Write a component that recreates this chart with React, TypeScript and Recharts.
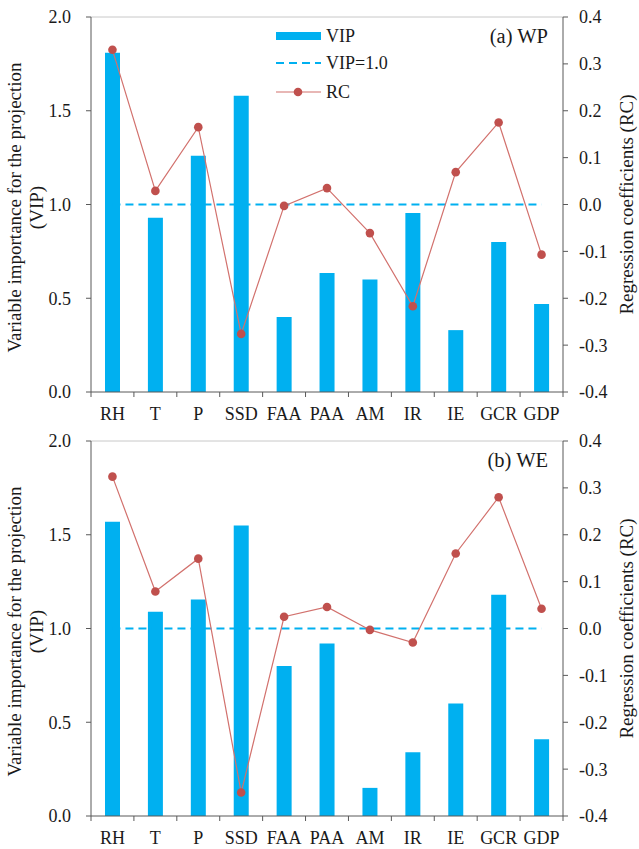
import React from 'react';
import { ComposedChart, Bar, Line, XAxis, YAxis, ReferenceLine, Legend, Label } from 'recharts';

const CATEGORIES = ['RH', 'T', 'P', 'SSD', 'FAA', 'PAA', 'AM', 'IR', 'IE', 'GCR', 'GDP'];
const VIP_WP = [1.81, 0.93, 1.26, 1.58, 0.4, 0.635, 0.6, 0.955, 0.33, 0.8, 0.47];
const RC_WP = [0.33, 0.029, 0.165, -0.276, -0.003, 0.035, -0.061, -0.217, 0.069, 0.175, -0.107];
const VIP_WE = [1.57, 1.09, 1.155, 1.55, 0.8, 0.92, 0.15, 0.34, 0.6, 1.18, 0.41];
const RC_WE = [0.324, 0.079, 0.149, -0.35, 0.025, 0.046, -0.003, -0.03, 0.16, 0.28, 0.042];
const VIP_THRESHOLD = 1.0;
const VIP_TICKS = [0, 0.5, 1, 1.5, 2];
const RC_TICKS = [-0.4, -0.3, -0.2, -0.1, 0, 0.1, 0.2, 0.3, 0.4];
const SERIES_NAMES = { vip: 'VIP', threshold: 'VIP=1.0', rc: 'RC' };
const PANEL_TITLES = ['(a) WP', '(b) WE'];

const FONT = '"Liberation Serif", "Times New Roman", serif';
const TEXT = '#1a1a1a';
const AXIS = '#595959';
const BLUE = '#00B0F0';
const RED = '#C0504D';
const RED_LINE = '#D2716D';

const W = 639;
const LEFT_W = 91;
const RIGHT_W = 76;
const PLOT_W = W - LEFT_W - RIGHT_W;
const BAND = PLOT_W / CATEGORIES.length;

function buildRows(vip: number[], rc: number[]) {
  return CATEGORIES.map((name, i) => ({ name, vip: vip[i], rc: rc[i], threshold: VIP_THRESHOLD }));
}

const XTick = (props: any) => {
  const { x, y, payload, index } = props;
  const last = index === CATEGORIES.length - 1;
  return (
    <g>
      <line x1={x - BAND / 2} x2={x - BAND / 2} y1={y} y2={y + 5} stroke={AXIS} strokeWidth={1} />
      {last && <line x1={x + BAND / 2} x2={x + BAND / 2} y1={y} y2={y + 5} stroke={AXIS} strokeWidth={1} />}
      <text x={x} y={y + 28} textAnchor="middle" fill={TEXT} fontSize={18} fontFamily={FONT}>
        {payload.value}
      </text>
    </g>
  );
};

const LegendBox = () => (
  <svg width={220} height={90} style={{ display: 'block' }}>
    <rect x={6} y={10} width={45} height={8} fill={BLUE} />
    <text x={56} y={14} dominantBaseline="central" fontSize={18} fontFamily={FONT} fill={TEXT}>{SERIES_NAMES.vip}</text>
    <line x1={6} x2={51} y1={41} y2={41} stroke={BLUE} strokeWidth={2} strokeDasharray="8 5" />
    <text x={56} y={41} dominantBaseline="central" fontSize={18} fontFamily={FONT} fill={TEXT}>{SERIES_NAMES.threshold}</text>
    <line x1={6} x2={51} y1={70} y2={70} stroke={RED_LINE} strokeWidth={1.2} />
    <circle cx={28} cy={70} r={4.3} fill={RED} />
    <text x={56} y={70} dominantBaseline="central" fontSize={18} fontFamily={FONT} fill={TEXT}>{SERIES_NAMES.rc}</text>
  </svg>
);

const LeftLabel = (props: any) => {
  const vb = props.viewBox || { x: 0, y: 0, width: LEFT_W, height: 375 };
  const cy = vb.y + vb.height / 2 + 3;
  return (
    <g>
      <text transform={`rotate(-90, 21, ${cy})`} x={21} y={cy} textAnchor="middle" fontSize={19} fontFamily={FONT} fill={TEXT}>
        Variable importance for the projection
      </text>
      <text transform={`rotate(-90, 43, ${cy})`} x={43} y={cy} textAnchor="middle" fontSize={19} fontFamily={FONT} fill={TEXT}>
        (VIP)
      </text>
    </g>
  );
};

const RightLabel = (props: any) => {
  const vb = props.viewBox || { x: W - RIGHT_W, y: 0, width: RIGHT_W, height: 375 };
  const cy = vb.y + vb.height / 2;
  const x = W - 6;
  return (
    <text transform={`rotate(-90, ${x}, ${cy})`} x={x} y={cy} textAnchor="middle" fontSize={19} fontFamily={FONT} fill={TEXT}>
      Regression coefficients (RC)
    </text>
  );
};

type PanelProps = {
  vip: number[];
  rc: number[];
  title: string;
  height: number;
  top: number;
  xh: number;
  legend: boolean;
  titleY: number;
};

const Panel = ({ vip, rc, title, height, top, xh, legend, titleY }: PanelProps) => {
  const rows = buildRows(vip, rc);
  return (
    <div style={{ position: 'relative', width: W, height }}>
      <ComposedChart width={W} height={height} data={rows} margin={{ top, right: 0, left: 0, bottom: 0 }}>
        <XAxis
          dataKey="name"
          xAxisId={0}
          height={xh}
          interval={0}
          tickLine={false}
          tickSize={0}
          tickMargin={0}
          axisLine={{ stroke: AXIS, strokeWidth: 1 }}
          tick={<XTick />}
        />
        <YAxis
          yAxisId="left"
          width={LEFT_W}
          domain={[0, 2]}
          ticks={VIP_TICKS}
          interval={0}
          tickFormatter={(v: number) => v.toFixed(1)}
          tickSize={5}
          tickMargin={15}
          axisLine={{ stroke: AXIS, strokeWidth: 1 }}
          tickLine={{ stroke: AXIS }}
          tick={{ fill: TEXT, fontSize: 18, fontFamily: FONT }}
          label={<Label content={<LeftLabel />} />}
        />
        <YAxis
          yAxisId="right"
          orientation="right"
          width={RIGHT_W}
          domain={[-0.4, 0.4]}
          ticks={RC_TICKS}
          interval={0}
          tickFormatter={(v: number) => v.toFixed(1)}
          tickSize={5}
          tickMargin={11}
          axisLine={{ stroke: AXIS, strokeWidth: 1 }}
          tickLine={{ stroke: AXIS }}
          tick={{ fill: TEXT, fontSize: 18, fontFamily: FONT, textAnchor: 'start' }}
          label={<Label content={<RightLabel />} />}
        />
        <ReferenceLine yAxisId="left" y={2} stroke="#c8c8c8" strokeWidth={1} />
        <Line
          yAxisId="left"
          dataKey="threshold"
          name={SERIES_NAMES.threshold}
          stroke={BLUE}
          strokeWidth={2}
          strokeDasharray="8 5"
          dot={false}
          activeDot={false}
          isAnimationActive={false}
        />
        <Bar yAxisId="left" dataKey="vip" name={SERIES_NAMES.vip} fill={BLUE} barSize={15} isAnimationActive={false} />
        <Line
          yAxisId="right"
          dataKey="rc"
          name={SERIES_NAMES.rc}
          stroke={RED_LINE}
          strokeWidth={1.2}
          dot={{ r: 4.3, fill: RED, stroke: 'none' }}
          activeDot={false}
          isAnimationActive={false}
        />
        {legend && (
          <Legend
            layout="vertical"
            align="center"
            verticalAlign="middle"
            content={() => <LegendBox />}
            wrapperStyle={{ position: 'absolute', left: 270, top: 22, width: 220, height: 90 }}
          />
        )}
      </ComposedChart>
      <svg width={W} height={height} style={{ position: 'absolute', left: 0, top: 0, pointerEvents: 'none' }}>
        <text x={548} y={titleY} textAnchor="end" fontSize={20.5} fontFamily={FONT} fill={TEXT}>
          {title}
        </text>
      </svg>
    </div>
  );
};

export default function App() {
  return (
    <div style={{ position: 'absolute', left: 0, top: 0, width: W, height: 849, background: '#fff' }}>
      <Panel vip={VIP_WP} rc={RC_WP} title={PANEL_TITLES[0]} height={430} top={17} xh={38} legend titleY={43} />
      <Panel vip={VIP_WE} rc={RC_WE} title={PANEL_TITLES[1]} height={419} top={11} xh={33} legend={false} titleY={37} />
    </div>
  );
}
